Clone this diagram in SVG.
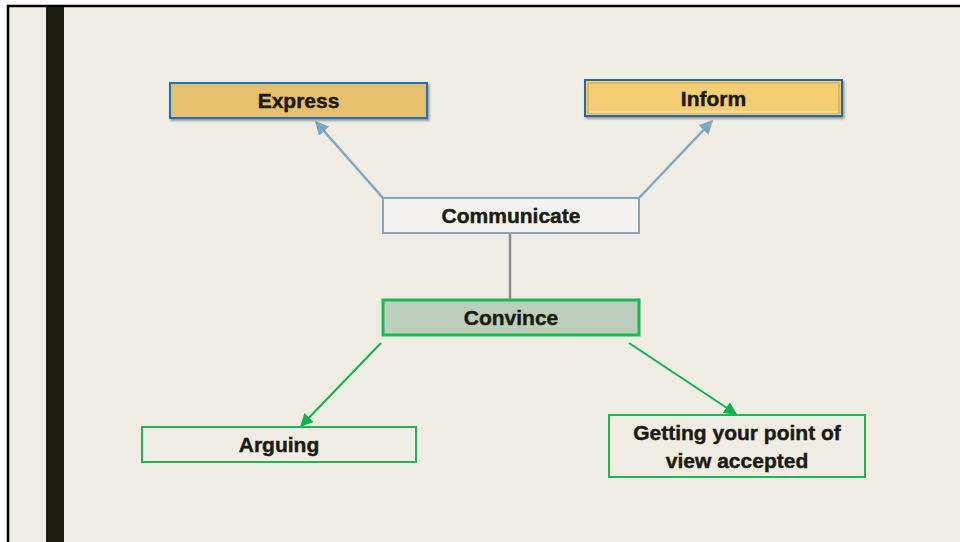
<svg xmlns="http://www.w3.org/2000/svg" width="960" height="542" viewBox="0 0 960 542">
  <style>
    .lbl { font-family: "Liberation Sans", Arial, sans-serif; font-weight: bold; font-size: 21px; fill: #1b1b12; stroke: #1b1b12; stroke-width: 0.45; text-anchor: middle; }
    .blue { stroke: #7fa6c3; stroke-width: 2.5; fill: none; }
    .green { stroke: #10b050; stroke-width: 2; fill: none; }
  </style>
  <defs>
    <marker id="arrBlue" viewBox="0 0 10 10" refX="9" refY="5" markerWidth="5.5" markerHeight="5.5" orient="auto" markerUnits="strokeWidth">
      <path d="M0,0 L10,5 L0,10 z" fill="#7fa6c3"/>
    </marker>
    <marker id="arrGreen" viewBox="0 0 10 10" refX="9" refY="5" markerWidth="6.5" markerHeight="6.5" orient="auto" markerUnits="strokeWidth">
      <path d="M0,0 L10,5 L0,10 z" fill="#10b050"/>
    </marker>
    <filter id="shadow" x="-10%" y="-30%" width="120%" height="160%">
      <feDropShadow dx="1.5" dy="2" stdDeviation="1.2" flood-color="#000" flood-opacity="0.35"/>
    </filter>
  </defs>

  <!-- page -->
  <rect x="0" y="0" width="960" height="542" fill="#ffffff"/>
  <rect x="8" y="6" width="960" height="550" fill="#efece4" stroke="#000" stroke-width="2.5"/>
  <rect x="46" y="7" width="18" height="535" fill="#1c1d10"/>

  <!-- connectors -->
  <g id="connectors">
    <line class="blue" x1="383" y1="198" x2="316" y2="122" marker-end="url(#arrBlue)"/>
    <line class="blue" x1="639" y1="198" x2="712" y2="121" marker-end="url(#arrBlue)"/>
    <line x1="510" y1="233" x2="510" y2="300" stroke="#8c8c8c" stroke-width="2.5"/>
    <line class="green" x1="381" y1="343" x2="301" y2="426" marker-end="url(#arrGreen)"/>
    <line class="green" x1="629" y1="343" x2="736" y2="414" marker-end="url(#arrGreen)"/>
  </g>

  <g id="express">
    <rect x="170" y="83" width="257" height="35" fill="#e6c06c" stroke="#1a72c2" stroke-width="2" filter="url(#shadow)"/>
    <text class="lbl" x="298.5" y="108">Express</text>
  </g>

  <g id="inform">
    <rect x="585" y="80" width="257" height="36" fill="#f4cd74" stroke="#1f6aa8" stroke-width="2" filter="url(#shadow)"/>
    <rect x="588" y="83" width="251" height="30" fill="none" stroke="#c9a04a" stroke-width="1"/>
    <line x1="589" y1="112" x2="838" y2="112" stroke="#fde7a6" stroke-width="1.5"/>
    <text class="lbl" x="713.5" y="106">Inform</text>
  </g>

  <g id="communicate">
    <rect x="383" y="198" width="256" height="35" fill="#f4f2ee" stroke="#7fa6c3" stroke-width="2"/>
    <text class="lbl" x="511" y="223">Communicate</text>
  </g>

  <g id="convince">
    <rect x="383" y="300" width="256" height="35" fill="#bccfbc" stroke="#1db954" stroke-width="3"/>
    <text class="lbl" x="511" y="325">Convince</text>
  </g>

  <g id="arguing">
    <rect x="142" y="427" width="274" height="35" fill="#efece4" stroke="#20b455" stroke-width="2"/>
    <text class="lbl" x="279" y="452">Arguing</text>
  </g>

  <g id="getting">
    <rect x="609" y="415" width="256" height="62" fill="#efece4" stroke="#20b455" stroke-width="2"/>
    <text class="lbl" x="737" y="440">Getting your point of</text>
    <text class="lbl" x="737" y="468">view accepted</text>
  </g>
</svg>
